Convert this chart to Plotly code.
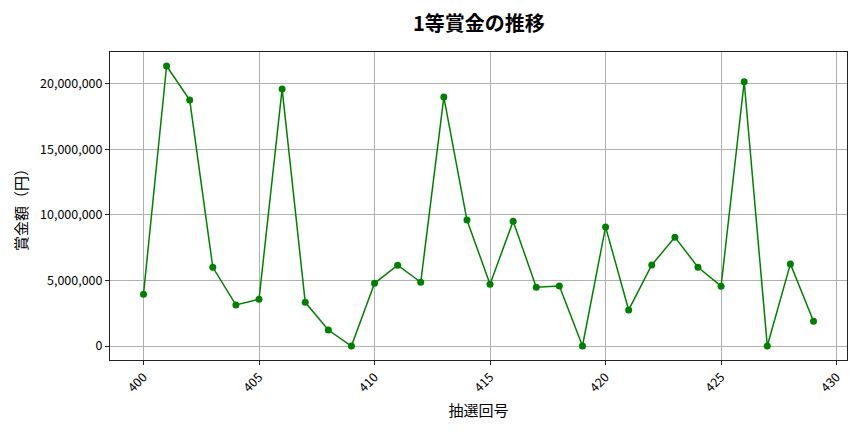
import plotly.graph_objects as go

draw_no = list(range(400, 430))
prize = [3950000, 21350000, 18750000, 6000000, 3130000, 3560000, 19600000, 3330000,
         1220000, 0, 4780000, 6160000, 4860000, 18980000, 9600000, 4710000, 9520000,
         4480000, 4580000, 0, 9080000, 2750000, 6180000, 8300000, 6000000, 4560000,
         20150000, 0, 6260000, 1880000]
x_ticks = [400, 405, 410, 415, 420, 425, 430]
y_ticks = [0, 5000000, 10000000, 15000000, 20000000]

font = "Noto Sans CJK JP"

fig = go.Figure()
fig.add_trace(go.Scatter(
    x=draw_no, y=prize, mode="lines+markers",
    line=dict(color="green", width=1.5),
    marker=dict(color="green", size=7),
))

# page body has an 8px margin, so the figure is shrunk by that much
ymax = max(prize)
fig.update_layout(
    width=856, height=424,
    margin=dict(l=102, r=17, t=44, b=72),
    paper_bgcolor="white", plot_bgcolor="white",
    showlegend=False,
    font=dict(family=font, size=12.5, color="black"),
    title=dict(text="<b>1等賞金の推移</b>", x=0.55, xanchor="center", y=0.962, yanchor="middle",
               font=dict(family=font, size=20, color="black")),
)
fig.update_xaxes(
    range=[398.55, 430.45], tickvals=x_ticks, tickangle=-45,
    showgrid=True, gridcolor="#b0b0b0", gridwidth=1,
    showline=True, linecolor="#222", linewidth=1, mirror=True,
    ticks="outside", ticklen=4, tickcolor="#222", zeroline=False,
    title=dict(text="抽選回号", font=dict(family=font, size=15), standoff=10),
)
fig.update_yaxes(
    range=[-0.05 * ymax, 1.05 * ymax], tickvals=y_ticks, tickformat=",d",
    showgrid=True, gridcolor="#b0b0b0", gridwidth=1,
    showline=True, linecolor="#222", linewidth=1, mirror=True,
    ticks="outside", ticklen=4, tickcolor="#222", zeroline=False,
    title=dict(text="賞金額（円）", font=dict(family=font, size=15), standoff=8),
)

fig.write_html("out.html")
